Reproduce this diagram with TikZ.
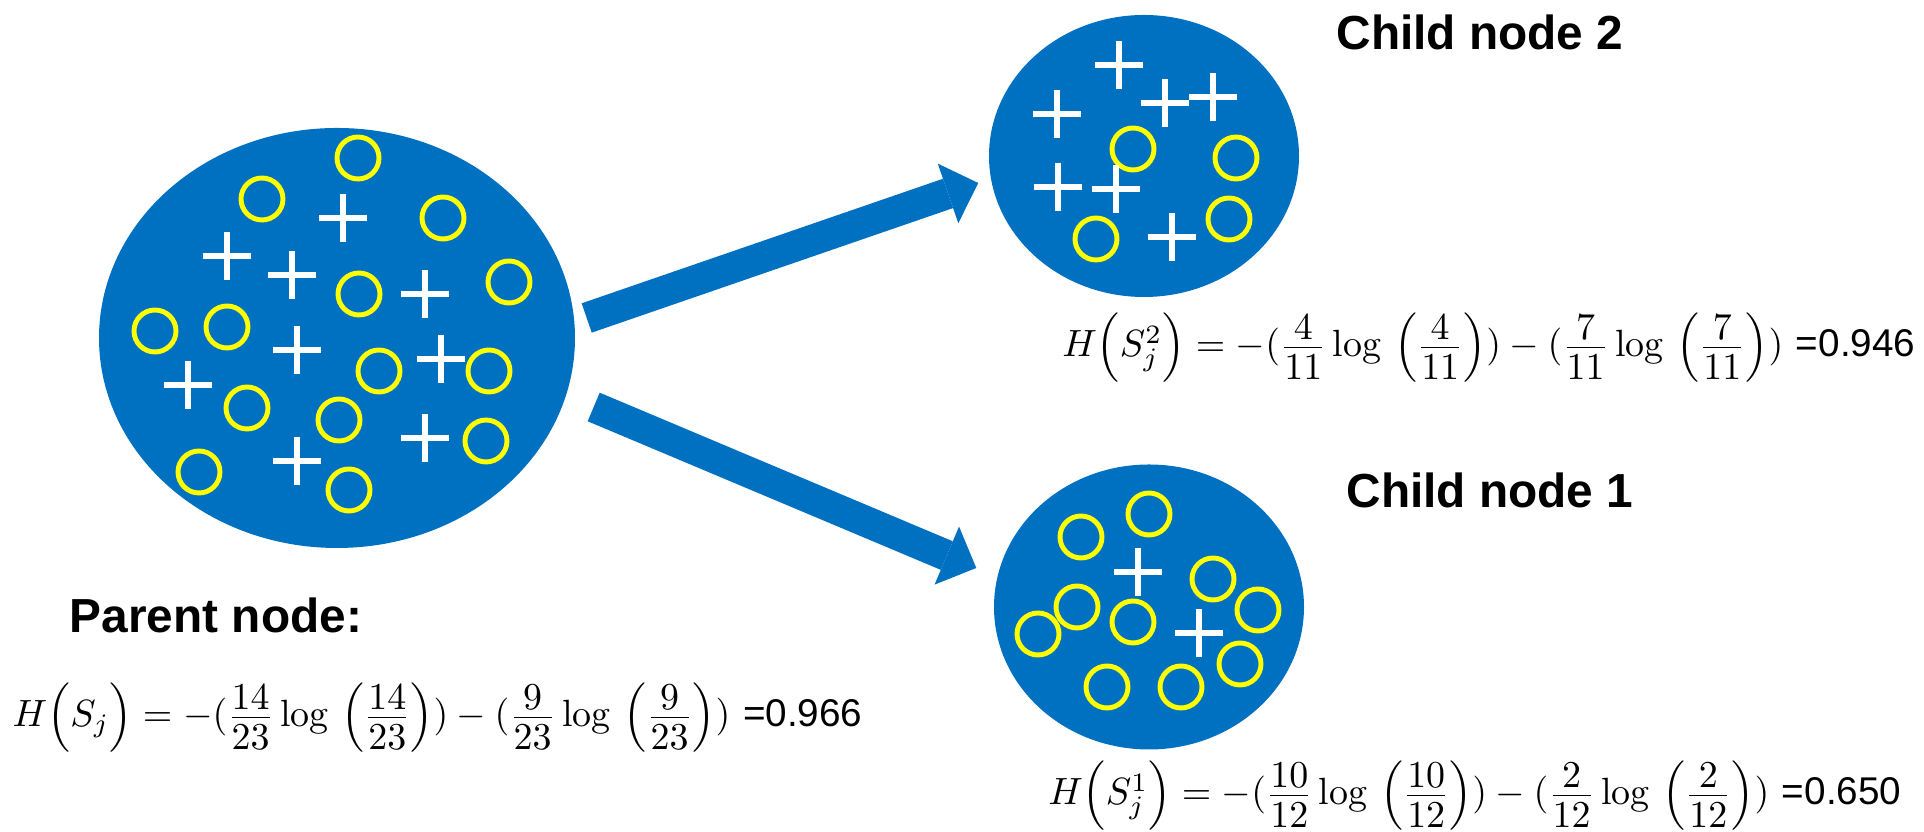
\documentclass[tikz,border=0pt]{standalone}
\usepackage{fix-cm}
\usepackage{amsmath}
\usepackage{fontspec}
\newfontfamily\arialfont{Liberation Sans}
\usetikzlibrary{arrows.meta,shapes.geometric,calc}

\definecolor{setblue}{RGB}{0,112,192}
\definecolor{ringyellow}{RGB}{255,255,0}

\newcommand{\pfrac}[2]{\frac{\displaystyle\rule[-0.14em]{0pt}{0pt}#1}{\displaystyle\rule{0pt}{0.78em}#2}}
\newcommand{\plogp}[2]{(\pfrac{#1}{#2}\log\,\left(\pfrac{#1}{#2}\right))}

\tikzset{
  setblob/.style={shape=ellipse, fill=setblue, inner sep=0pt},
  ringmark/.style={draw=ringyellow, line width=1.4pt},
  plusmark/.style={draw=white, line width=1.6pt},
  splitarrow/.style={draw=setblue, line width=0.31cm,
    -{Triangle[width=0.63cm,length=0.32cm,line width=0pt]}},
  nodetitle/.style={font=\arialfont\bfseries\fontsize{13.6}{16}\selectfont, inner sep=0pt, anchor=base},
  entropy/.style={inner sep=0pt, font=\fontsize{10.8}{13}\selectfont},
}

\begin{document}
\begin{tikzpicture}
  \useasboundingbox (0,0) rectangle (19.24,8.32);

  % the three sets
  \node[setblob, minimum width=4.76cm, minimum height=4.20cm] (parent) at (3.37,4.94) {};
  \node[setblob, minimum width=3.10cm, minimum height=2.82cm] (child2) at (11.44,6.76) {};
  \node[setblob, minimum width=3.10cm, minimum height=2.85cm] (child1) at (11.49,2.25) {};

  % samples of the first class
  \foreach \x/\y in {
      3.58/6.74, 2.62/6.33, 4.43/6.14, 3.59/5.38, 5.09/5.50,
      1.55/5.01, 2.27/5.05, 3.79/4.61, 4.89/4.61, 2.47/4.24,
      3.39/4.12, 4.86/3.91, 1.99/3.60, 3.49/3.42,
      11.33/6.83, 12.36/6.74, 12.29/6.13, 10.96/5.93,
      11.49/3.18, 10.81/2.95, 12.13/2.53, 10.77/2.25, 12.58/2.22,
      10.38/1.98, 11.33/2.10, 12.40/1.68, 11.07/1.45, 11.81/1.45
  } {
      \draw[ringmark] (\x,\y) circle (0.21);
  }

  % samples of the second class
  \foreach \x/\y in {
      3.43/6.14, 2.27/5.76, 2.92/5.57, 4.25/5.38, 2.97/4.82,
      4.41/4.73, 1.88/4.47, 4.25/3.94, 2.97/3.71,
      11.19/7.67, 10.57/7.18, 11.65/7.29, 12.13/7.35,
      10.58/6.45, 11.16/6.43, 11.72/5.95,
      11.38/2.60, 11.99/1.99
  } {
      \draw[plusmark] (\x,\y) +(-0.24,0) -- +(0.24,0) +(0,-0.24) -- +(0,0.24);
  }

  % split
  \coordinate (up tail) at ($(parent.east)+(0.11,0.20)$);
  \coordinate (up tip) at ($(child2.west)+(-0.10,-0.27)$);
  \coordinate (down tail) at ($(parent.east)+(0.18,-0.69)$);
  \coordinate (down tip) at ($(child1.west)+(-0.17,0.39)$);
  \draw[splitarrow] (up tail) -- (up tip);
  \draw[splitarrow] (down tail) -- (down tip);

  \node[nodetitle] (title2) at (14.80,7.82) {Child node 2};
  \node[nodetitle] (title1) at (14.90,3.24) {Child node 1};
  \node[nodetitle] (title0) at (2.16,1.99) {Parent node:};

  \node[entropy, anchor=base west] (h0) at (0.12,1.05)
    {$H\Bigl(S_j\Bigr) = -\plogp{14}{23} - \plogp{9}{23}$ {\arialfont\fontsize{11}{13}\selectfont =0.966}};
  \node[entropy, anchor=base east] (h2) at (19.16,4.75)
    {$H\Bigl(S_j^2\Bigr) = -\plogp{4}{11} - \plogp{7}{11}$ {\arialfont\fontsize{11}{13}\selectfont =0.946}};
  \node[entropy, anchor=base east] (h1) at (19.02,0.27)
    {$H\Bigl(S_j^1\Bigr) = -\plogp{10}{12} - \plogp{2}{12}$ {\arialfont\fontsize{11}{13}\selectfont =0.650}};
\end{tikzpicture}
\end{document}
